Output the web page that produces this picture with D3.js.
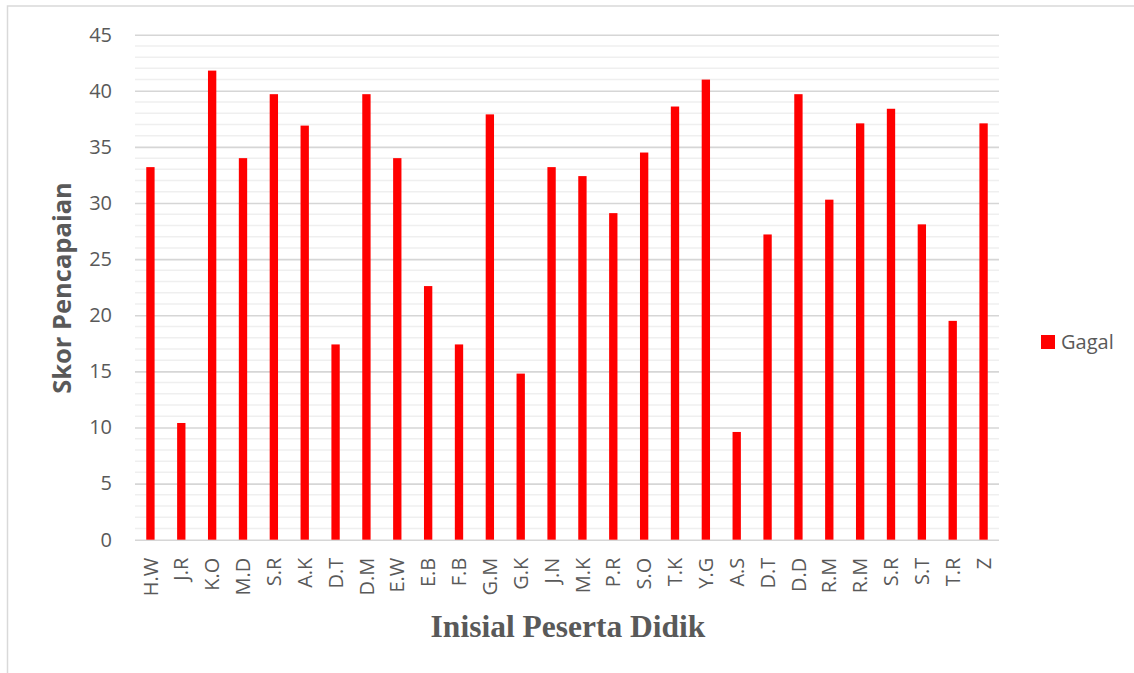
<!DOCTYPE html>
<html>
<head>
<meta charset="utf-8">
<script src="https://cdn.jsdelivr.net/npm/d3@7"></script>
<style>
  html, body { margin: 0; padding: 0; background: #ffffff; }
  svg { display: block; }
  .tick text { font-family: "Open Sans", sans-serif; fill: #595959; }
</style>
</head>
<body>
<svg id="chart" width="1134" height="673"></svg>
<script>
// Student initials (some repeat) and their achievement scores
const categories = ["H.W","J.R","K.O","M.D","S.R","A.K","D.T","D.M","E.W","E.B","F.B","G.M","G.K","J.N",
                    "M.K","P.R","S.O","T.K","Y.G","A.S","D.T","D.D","R.M","R.M","S.R","S.T","T.R","Z"];
const gagal = [33.2,10.4,41.8,34.0,39.7,36.9,17.4,39.7,34.0,22.6,17.4,37.9,14.8,33.2,
               32.4,29.1,34.5,38.6,41.0,9.6,27.2,39.7,30.3,37.1,38.4,28.1,19.5,37.1];
const yTicks = [0,5,10,15,20,25,30,35,40,45];
const seriesName = "Gagal";

const svg = d3.select("#chart");
const W = 1134, H = 673;
const plot = { left: 135, right: 999, top: 34.7, bottom: 539.7 };

// outer frame (only top and left edges fall inside the canvas)
svg.append("rect")
  .attr("x", 7.5).attr("y", 6)
  .attr("width", W + 20).attr("height", H + 20)
  .attr("fill", "none").attr("stroke", "#d9d9d9").attr("stroke-width", 1.5);

const x = d3.scaleBand()
  .domain(d3.range(categories.length))
  .range([plot.left, plot.right])
  .paddingInner(0.73)
  .paddingOuter(0.365);

const y = d3.scaleLinear().domain([0, 45]).range([plot.bottom, plot.top]);

// minor gridlines every 1 unit
const minor = d3.range(0, 46).filter(v => v % 5 !== 0);
svg.append("g").selectAll("line").data(minor).join("line")
  .attr("x1", plot.left).attr("x2", plot.right)
  .attr("y1", d => y(d)).attr("y2", d => y(d))
  .attr("stroke", "#efefef").attr("stroke-width", 1.5);

// major gridlines + y axis labels
const yAxis = d3.axisLeft(y)
  .tickValues(yTicks)
  .tickSize(-(plot.right - plot.left))
  .tickPadding(23)
  .tickFormat(d3.format("d"));
const gy = svg.append("g").attr("transform", `translate(${plot.left},0)`).call(yAxis);
gy.select(".domain").remove();
gy.selectAll(".tick line").attr("stroke", "#d6d6d6").attr("stroke-width", 1.6);
gy.selectAll(".tick text").attr("font-size", 20);

// bars
svg.append("g").selectAll("rect").data(gagal).join("rect")
  .attr("x", (d, i) => x(i))
  .attr("width", x.bandwidth())
  .attr("y", d => y(d))
  .attr("height", d => y(0) - y(d))
  .attr("fill", "#ff0000");

// x axis with rotated initials
const xAxis = d3.axisBottom(x)
  .tickSize(0)
  .tickFormat(i => categories[i]);
const gx = svg.append("g").attr("transform", `translate(0,${plot.bottom})`).call(xAxis);
gx.select(".domain").remove();
gx.selectAll(".tick text")
  .attr("font-size", 20)
  .attr("transform", "rotate(-90)")
  .attr("text-anchor", "end")
  .attr("x", -18)
  .attr("y", 0)
  .attr("dy", "0.36em");

// axis titles
svg.append("text")
  .attr("transform", `translate(71,288) rotate(-90)`)
  .attr("text-anchor", "middle")
  .attr("font-family", "'Open Sans', sans-serif")
  .attr("font-weight", "bold")
  .attr("font-size", 25.5)
  .attr("fill", "#595959")
  .text("Skor Pencapaian");

svg.append("text")
  .attr("x", 568)
  .attr("y", 637)
  .attr("text-anchor", "middle")
  .attr("font-family", "'Liberation Serif', 'Times New Roman', serif")
  .attr("font-weight", "bold")
  .attr("font-size", 31.5)
  .attr("fill", "#595959")
  .text("Inisial Peserta Didik");

// legend
const lg = svg.append("g").attr("transform", "translate(1041,335)");
lg.append("rect").attr("width", 14).attr("height", 14).attr("fill", "#ff0000");
lg.append("text")
  .attr("x", 20).attr("y", 14)
  .attr("font-family", "'Open Sans', sans-serif")
  .attr("font-size", 20)
  .attr("fill", "#595959")
  .text(seriesName);
</script>
</body>
</html>
